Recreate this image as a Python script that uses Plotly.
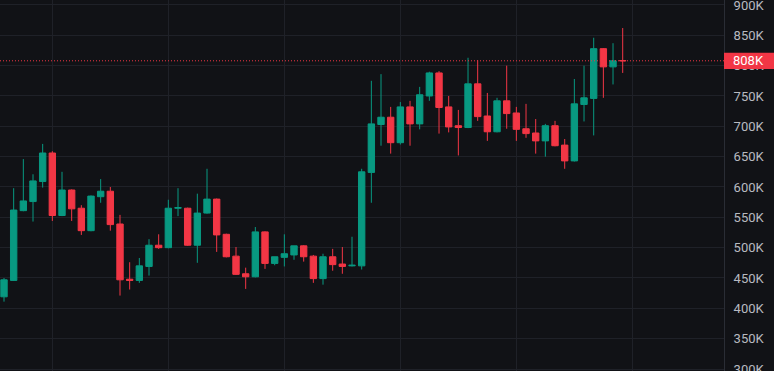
import plotly.graph_objects as go

# ---- data (values in thousands) ----
idx = list(range(65))
opens = [419, 446, 561, 576, 609, 656, 553, 595, 565, 528, 584, 593, 539, 448, 446, 469, 504, 500, 565, 565,
         504, 557, 580, 522, 486, 457, 452, 526, 474, 484, 488, 503, 486, 449, 485, 473, 470, 470, 624, 703,
         715, 673, 732, 704, 750, 788, 732, 701, 698, 770, 717, 691, 742, 722, 696, 689, 676, 701, 669, 643,
         736, 746, 828, 798, 808.4]
highs = [450, 598, 646, 621, 671, 659, 625, 596, 570, 586, 613, 600, 554, 476, 483, 514, 522, 579, 598, 566,
         589, 630, 581, 523, 501, 467, 534, 527, 485, 522, 503, 504, 488, 490, 498, 501, 518, 630, 775, 786,
         732, 740, 742, 765, 790, 791, 750, 727, 813, 809, 755, 747, 800, 732, 737, 712, 704, 709, 679, 778,
         800, 846, 829, 837, 862]
lows = [411, 445, 560, 543, 599, 544, 552, 544, 521, 527, 574, 528, 421, 431, 442, 454, 498, 499, 552, 503,
        475, 556, 493, 484, 455, 432, 451, 465, 471, 469, 480, 477, 442, 439, 462, 457, 469, 464, 574, 668,
        655, 670, 668, 695, 742, 688, 690, 652, 697, 709, 676, 690, 696, 676, 681, 655, 650, 667, 630, 642,
        708, 685, 747, 769, 788]
closes = [447, 562, 577, 610, 656, 553, 595, 564, 528, 585, 593, 538, 447, 446, 470, 504, 500, 565, 566, 504,
          557, 580, 521, 485, 456, 452, 526, 474, 485, 490, 503, 485, 449, 485, 472, 469, 471, 625, 704, 715,
          673, 732, 704, 752, 788, 731, 699, 698, 770, 716, 691, 742, 721, 695, 688, 676, 701, 668, 643, 737,
          747, 828, 798, 808, 808]
tick_vals = [300, 350, 400, 450, 500, 550, 600, 650, 700, 750, 800, 850, 900]
tick_text = [f"{v}K" for v in tick_vals]
grid_x = [5, 17, 29, 41, 53, 65]
last_price = 808
last_label = "808K"

BG = "#111216"
GRID = "#1f2128"
UP = "#089981"
DOWN = "#F23645"
TXT = "#B8BAC0"
FONT = "Roboto"

fig = go.Figure(go.Candlestick(
    x=idx, open=opens, high=highs, low=lows, close=closes,
    increasing=dict(line=dict(color=UP, width=1), fillcolor=UP),
    decreasing=dict(line=dict(color=DOWN, width=1), fillcolor=DOWN),
    whiskerwidth=0, hoverinfo="skip",
))

X_END = 724 / 774

fig.update_layout(
    width=774, height=371,
    margin=dict(l=0, r=0, t=0, b=0, autoexpand=False),
    paper_bgcolor=BG, plot_bgcolor=BG,
    showlegend=False,
    boxgap=0.34, boxgroupgap=0,
    font=dict(family=FONT, size=13, color=TXT),
    xaxis=dict(
        domain=[0, X_END], range=[-0.414, 74.48],
        rangeslider=dict(visible=False), automargin=False,
        tickvals=grid_x, showticklabels=False, ticks="",
        showgrid=True, gridcolor=GRID, gridwidth=1,
        zeroline=False, showline=False, fixedrange=True,
    ),
    yaxis=dict(
        side="right", anchor="x", automargin=False,
        range=[296.7, 908.2],
        tickvals=tick_vals, ticktext=tick_text,
        ticks="", ticklabelstandoff=6, ticklabeloverflow="allow",
        showgrid=True, gridcolor=GRID, gridwidth=1,
        zeroline=False, showline=True, linecolor="#2a2d35", linewidth=1,
        tickfont=dict(family=FONT, size=13, color=TXT),
        fixedrange=True,
    ),
    shapes=[
        dict(type="line", xref="paper", yref="y", x0=0, x1=X_END, y0=last_price, y1=last_price,
             line=dict(color=DOWN, width=1, dash="1px,2px"), layer="above"),
        dict(type="rect", xref="paper", yref="y", x0=X_END, x1=1.0, y0=last_price - 13.7, y1=last_price + 13.4,
             fillcolor=DOWN, line=dict(width=0), layer="above"),
    ],
    annotations=[
        dict(xref="paper", yref="y", x=731 / 774, y=last_price, text=last_label, showarrow=False,
             xanchor="left", yanchor="middle", font=dict(family=FONT, size=13, color="#FFFFFF")),
    ],
)

fig.write_html("out.html", config={"displayModeBar": False, "staticPlot": True},
               post_script="document.body.style.margin='0';document.body.style.background='%s';" % BG)
